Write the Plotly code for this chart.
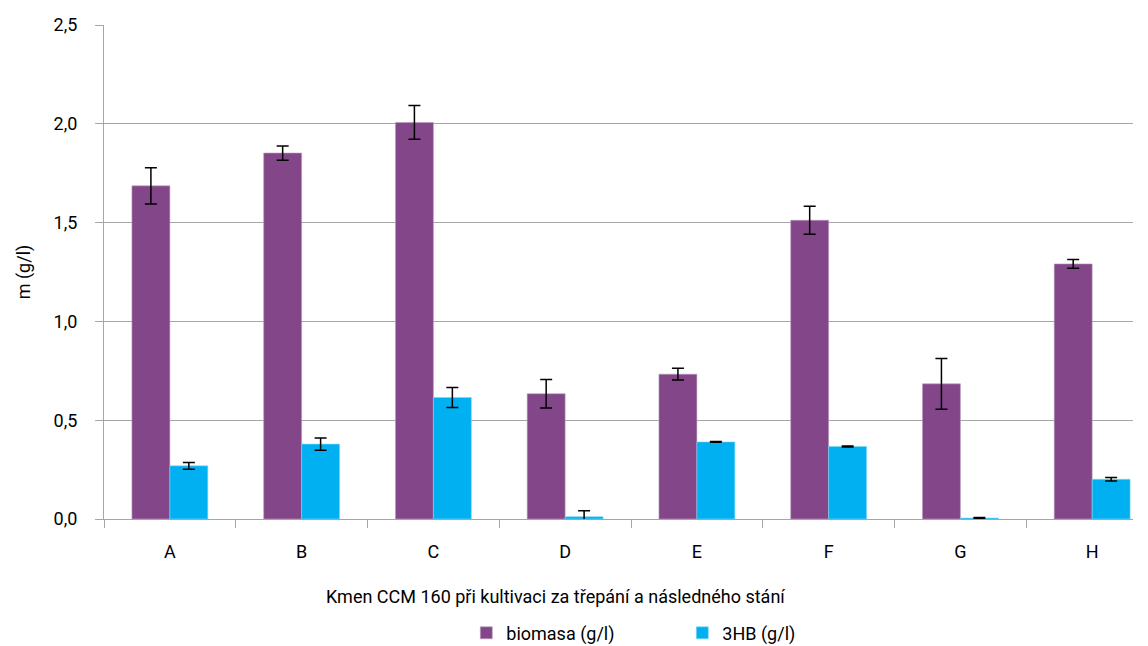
import plotly.graph_objects as go

categories = ["A", "B", "C", "D", "E", "F", "G", "H"]
biomasa = [1.686, 1.852, 2.007, 0.634, 0.733, 1.512, 0.684, 1.291]
biomasa_err = [0.092, 0.036, 0.085, 0.072, 0.030, 0.071, 0.128, 0.022]
hb3 = [0.269, 0.379, 0.615, 0.012, 0.390, 0.367, 0.005, 0.201]
hb3_err = [0.017, 0.031, 0.051, 0.030, 0.002, 0.003, 0.002, 0.009]
x_title = "Kmen CCM 160 při kultivaci za třepání a následného stání"

FONT = "Roboto"
FS = 18
fig = go.Figure()
fig.add_trace(go.Bar(
    x=categories, y=biomasa, name="biomasa (g/l)",
    marker=dict(color="#834689", line=dict(color="#b9a0bd", width=0.6)),
    error_y=dict(type="data", array=biomasa_err, visible=True,
                 color="black", thickness=1.5, width=6),
))
fig.add_trace(go.Bar(
    x=categories, y=hb3, name="3HB (g/l)",
    marker=dict(color="#00B0F0", line=dict(color="#7fd6f6", width=0.6)),
    error_y=dict(type="data", array=hb3_err, visible=True,
                 color="black", thickness=1.5, width=6),
))

fig.update_layout(
    width=1148, height=646,
    margin=dict(l=104, r=15, t=25, b=127, autoexpand=False),
    plot_bgcolor="white", paper_bgcolor="white",
    barmode="group", bargap=0.424, bargroupgap=0,
    separators=", ",
    font=dict(family=FONT, size=FS, color="#000000"),
    showlegend=True,
    legend=dict(orientation="h", x=0.562, xanchor="center", y=-0.231,
                yanchor="middle", font=dict(size=FS), itemwidth=30,
                entrywidth=171, traceorder="normal"),
    annotations=[dict(text=x_title, xref="paper", yref="paper",
                      x=0.439, y=-0.156, xanchor="center", yanchor="middle",
                      showarrow=False, font=dict(size=FS))],
)
fig.update_xaxes(
    type="category", range=[-0.5, 7.31], automargin=False,
    showline=True, linecolor="#a6a6a6", linewidth=1,
    ticks="outside", tickson="boundaries", ticklen=8, tickcolor="#a6a6a6",
    showgrid=False, ticklabelstandoff=16,
)
fig.update_yaxes(
    range=[0, 2.5], dtick=0.5, tickformat=".1f", automargin=False,
    showline=True, linecolor="#a6a6a6", linewidth=1,
    ticks="outside", ticklen=8, tickcolor="#a6a6a6",
    showgrid=True, gridcolor="#a6a6a6", gridwidth=1,
    zeroline=False, ticklabelstandoff=14,
    title=dict(text="m (g/l)", font=dict(size=FS), standoff=18),
)

fig.write_html("out.html", post_script="document.body.style.margin='0';",
               config={"displayModeBar": False})
